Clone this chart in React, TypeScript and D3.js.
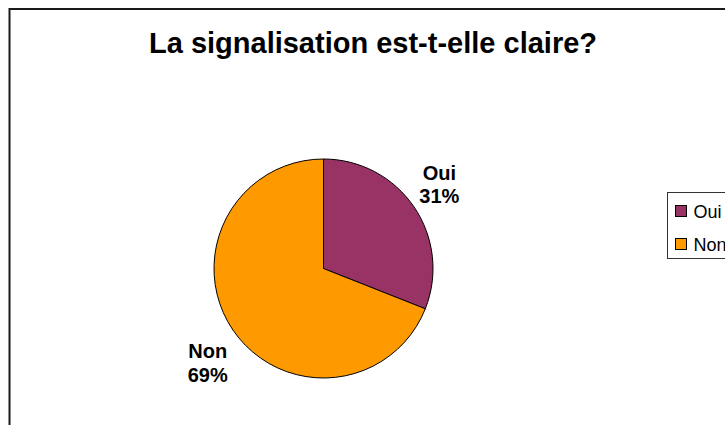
import { useEffect, useRef } from 'react'
import * as d3 from 'd3'

const title = 'La signalisation est-t-elle claire?'
const categories = ['Oui', 'Non']
const values = [31, 69]
const colors = ['#993366', '#FF9900']

const FONT = '"Liberation Sans", Arial, sans-serif'

function App() {
  const svgRef = useRef<SVGSVGElement>(null)

  useEffect(() => {
    const width = 725
    const height = 425
    const svg = d3.select(svgRef.current)
    svg.selectAll('*').remove()
    svg.attr('width', width).attr('height', height)

    // fond + cadre du graphique (coupé à droite et en bas)
    svg.append('rect').attr('width', width).attr('height', height).attr('fill', '#fff')
    svg.append('rect')
      .attr('x', 9.5).attr('y', 9)
      .attr('width', 900).attr('height', 600)
      .attr('fill', 'none')
      .attr('stroke', '#1a1a1a')
      .attr('stroke-width', 2)

    svg.append('text')
      .attr('x', 373)
      .attr('y', 53)
      .attr('text-anchor', 'middle')
      .attr('font-family', FONT)
      .attr('font-weight', 'bold')
      .attr('font-size', 29)
      .attr('fill', '#000')
      .text(title)

    const cx = 323.5
    const cy = 268.5
    const radius = 109.5

    const data = categories.map((c, i) => ({ cat: c, value: values[i], color: colors[i] }))
    const total = d3.sum(values)

    const pie = d3.pie<any>().value(d => d.value).sort(null)
    const arc = d3.arc<any>().innerRadius(0).outerRadius(radius)

    const g = svg.append('g').attr('transform', `translate(${cx},${cy})`)
    const arcs = pie(data)

    g.selectAll('path')
      .data(arcs)
      .enter()
      .append('path')
      .attr('d', arc)
      .attr('fill', d => d.data.color)
      .attr('stroke', '#000')
      .attr('stroke-width', 1)

    // étiquettes posées à l'extérieur, sur l'angle médian de chaque secteur
    const lineH = 23.5
    const fs = 20
    arcs.forEach(a => {
      const mid = (a.startAngle + a.endAngle) / 2
      const s = Math.sin(mid)
      const c = -Math.cos(mid)
      const r = radius + 10
      const bx = s * r + Math.sign(s) * 17
      const by = c * r + Math.sign(c) * 22
      const pct = Math.round((a.data.value / total) * 100) + '%'
      const t = g.append('text')
        .attr('text-anchor', 'middle')
        .attr('font-family', FONT)
        .attr('font-weight', 'bold')
        .attr('font-size', fs)
        .attr('fill', '#000')
      t.append('tspan').attr('x', bx).attr('y', by + 0.5).text(a.data.cat)
      t.append('tspan').attr('x', bx).attr('y', by + 0.5 + lineH).text(pct)
    })

    // légende (coupée au bord droit comme dans l'original)
    const legend = svg.append('g').attr('transform', 'translate(667.5,192.5)')
    legend.append('rect')
      .attr('width', 120).attr('height', 66)
      .attr('fill', '#fff')
      .attr('stroke', '#333')
      .attr('stroke-width', 1)

    const items = legend.selectAll('.legend-item')
      .data(data)
      .enter()
      .append('g')
      .attr('class', 'legend-item')
      .attr('transform', (d, i) => `translate(8, ${13 + i * 33})`)

    items.append('rect')
      .attr('width', 11).attr('height', 11)
      .attr('fill', d => d.color)
      .attr('stroke', '#000')
      .attr('stroke-width', 1)

    items.append('text')
      .attr('x', 18)
      .attr('y', 12)
      .attr('font-family', FONT)
      .attr('font-size', 18)
      .attr('fill', '#000')
      .text(d => d.cat)
  }, [])

  return (
    <svg ref={svgRef} style={{ position: 'absolute', left: 0, top: 0, display: 'block' }}></svg>
  )
}

export default App
